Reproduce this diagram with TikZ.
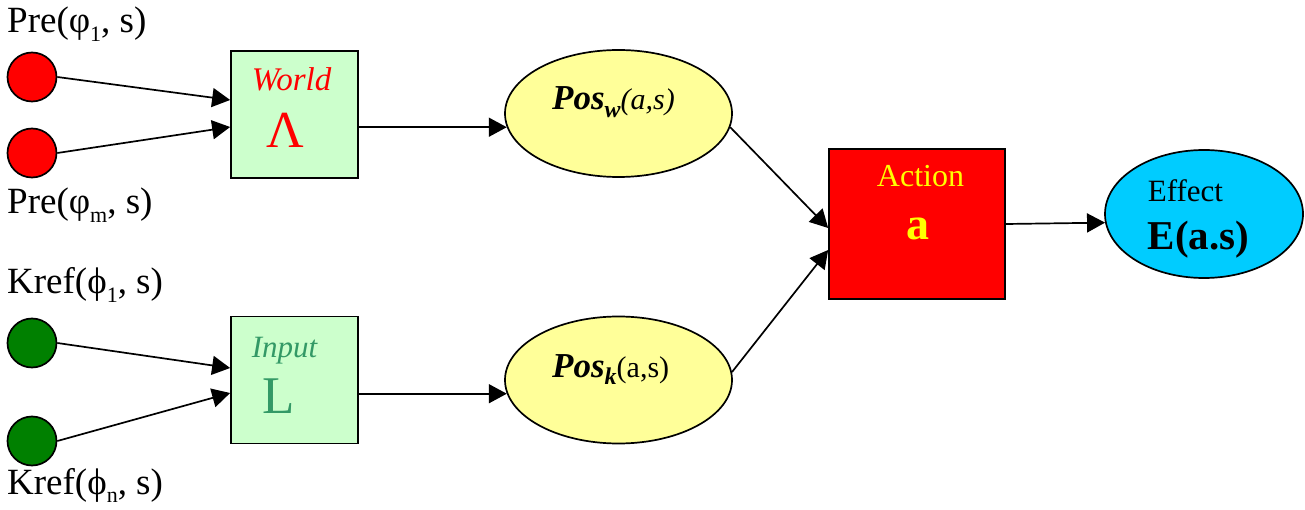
\documentclass[tikz,border=0pt]{standalone}
\usepackage{fontspec}
\setmainfont{Liberation Serif}
\usetikzlibrary{arrows.meta,shapes.geometric}
\definecolor{boxgreen}{RGB}{204,255,204}
\definecolor{ellyellow}{RGB}{255,255,153}
\definecolor{effcyan}{RGB}{0,204,255}
\definecolor{dotgreen}{RGB}{0,128,0}
\definecolor{inputgreen}{RGB}{51,153,102}
\definecolor{actyellow}{RGB}{255,255,0}
\newcommand{\fsz}[1]{\fontsize{#1}{#1}\selectfont}
\newcommand{\subsc}[2]{\raisebox{-0.22em}{\fsz{#1}#2}}
\begin{document}
\begin{tikzpicture}[x=1pt,y=-1pt,
  dot/.style={circle,draw,line width=1.7pt,minimum size=49pt,inner sep=0},
  reddot/.style={dot,fill=red},
  greendot/.style={dot,fill=dotgreen},
  gatebox/.style={rectangle,draw,line width=1.7pt,fill=boxgreen,minimum width=127pt,minimum height=127pt,inner sep=0},
  poss/.style={ellipse,draw,line width=1.7pt,fill=ellyellow,minimum width=227pt,minimum height=127pt,inner sep=0},
  arr/.style={line width=1.7pt,-{Triangle[length=18pt,width=19pt]}},
  lbl/.style={anchor=base west,inner sep=0},
  ctr/.style={anchor=base,inner sep=0}]
\useasboundingbox (0,0) rectangle (1305,510);
% shapes
\node[reddot] (p1) at (32,77) {};
\node[reddot] (pm) at (32,153) {};
\node[greendot] (k1) at (32,343) {};
\node[greendot] (kn) at (32,441) {};
\node[gatebox] (world) at (294.5,114.5) {};
\node[gatebox] (input) at (294.5,380) {};
\node[poss] (posw) at (618.5,113.5) {};
\node[poss] (posk) at (618.5,380) {};
\node[rectangle,draw,line width=1.7pt,fill=red,minimum width=176pt,minimum height=150pt,inner sep=0] (action) at (917,224) {};
\node[ellipse,draw,line width=1.7pt,fill=effcyan,minimum width=198pt,minimum height=128pt,inner sep=0] (effect) at (1204,214) {};
% labels
\node[lbl] (tpre1) at (7,33) {\fsz{37}Pre(φ\subsc{22}{1}, s)};
\node[lbl] (tprem) at (7,214) {\fsz{37}Pre(φ\subsc{22}{m}, s)};
\node[lbl] (tk1) at (7,294) {\fsz{37}Kref(ϕ\subsc{22}{1}, s)};
\node[lbl] (tkn) at (7,494) {\fsz{37}Kref(ϕ\subsc{22}{n}, s)};
\node[ctr,text=red] (tworld) at (291.5,91) {\fsz{33}\itshape World};
\node[ctr,text=red] (tlam) at (285,148) {\fsz{52}Λ};
\node[ctr,text=inputgreen] (tinput) at (284.5,357) {\fsz{31}\itshape Input};
\node[ctr,text=inputgreen] (tL) at (278.5,413) {\fsz{53}L};
\node[lbl] (tposw) at (552,110) {{\fsz{35}\bfseries\itshape Pos\subsc{24}{w}}{\fsz{30}\itshape (a,s)}};
\node[lbl] (tposk) at (552,377) {{\fsz{35}\bfseries\itshape Pos\subsc{24}{k}}{\fsz{30}(a,s)}};
\node[ctr,text=actyellow] (taction) at (920.5,187) {\fsz{32}Action};
\node[ctr,text=actyellow] (ta) at (917.5,240) {\fsz{46}\bfseries a};
\node[ctr] (teffect) at (1185.5,202) {\fsz{31}Effect};
\node[ctr] (teas) at (1198.5,250) {\fsz{41}\bfseries E(a.s)};
% connectors
\draw[arr] (p1.east) -- ([yshift=14.5pt]world.west);
\draw[arr] (pm.east) -- ([yshift=-12.5pt]world.west);
\draw[arr] (k1.east) -- ([yshift=12pt]input.west);
\draw[arr] (kn.east) -- ([yshift=-13pt]input.west);
\draw[arr] (world.east |- posw.187) -- (posw.187);
\draw[arr] (input.east |- posk.187) -- (posk.187);
\draw[arr] (posw.-7.5) -- ([yshift=-4pt]action.west);
\draw[arr] (posk.4) -- ([yshift=-26pt]action.west);
\draw[arr] (action.east) -- (effect.185.5);
\end{tikzpicture}
\end{document}
